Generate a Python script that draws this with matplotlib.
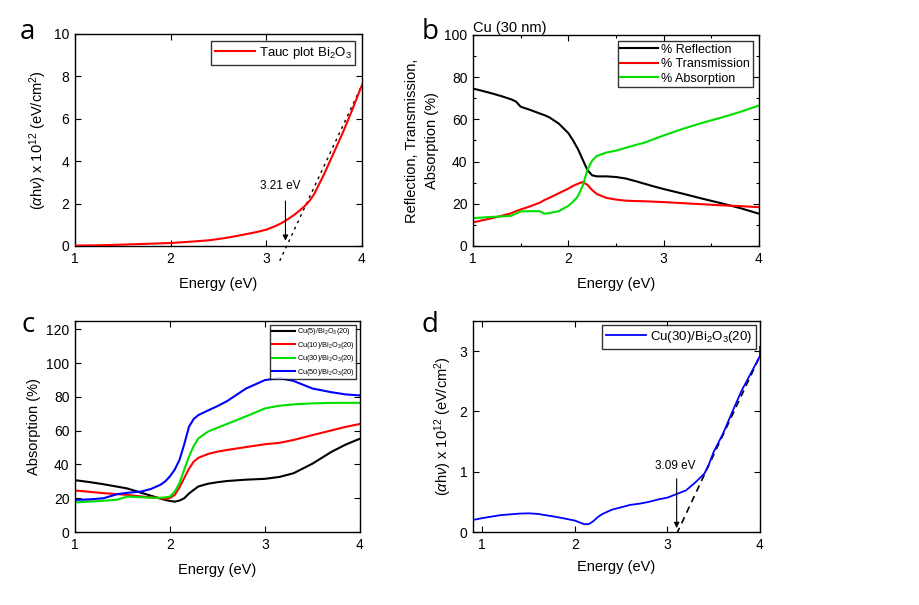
import matplotlib
matplotlib.use("Agg")
import matplotlib.pyplot as plt
from matplotlib.ticker import MultipleLocator

plt.rcParams['font.family'] = ['Liberation Sans', 'DejaVu Sans']
plt.rcParams['mathtext.fontset'] = 'custom'
plt.rcParams['mathtext.rm'] = 'Liberation Sans'
plt.rcParams['mathtext.it'] = 'Liberation Sans:italic'
plt.rcParams['font.size'] = 10

# --- panel a: Tauc plot Bi2O3 ---
a_x = [1.0, 1.2, 1.4, 1.6, 1.8, 2.0, 2.2, 2.4, 2.5, 2.6, 2.7, 2.8, 2.9, 3.0,
       3.1, 3.15, 3.2, 3.25, 3.3, 3.35, 3.4, 3.45, 3.5, 3.6, 3.7, 3.8, 3.9,
       4.0]
a_y = [0.02, 0.03, 0.05, 0.08, 0.11, 0.14, 0.2, 0.27, 0.33, 0.4, 0.48, 0.57,
       0.66, 0.77, 0.95, 1.06, 1.19, 1.34, 1.5, 1.68, 1.88, 2.12, 2.45, 3.35,
       4.35, 5.35, 6.45, 7.6]
a_fit_x = [3.14, 4.0]
a_fit_y = [-0.7, 7.6]
a_gap = 3.21

# --- panel b: Cu (30 nm) ---
b_x = [1.0, 1.1, 1.2, 1.3, 1.4, 1.45, 1.5, 1.6, 1.7, 1.75, 1.8, 1.9, 2.0,
       2.05, 2.1, 2.15, 2.2, 2.25, 2.3, 2.4, 2.5, 2.6, 2.7, 2.8, 2.9, 3.0,
       3.2, 3.4, 3.6, 3.8, 4.0]
b_refl = [74.6, 73.5, 72.3, 71.0, 69.5, 68.5, 66.0, 64.5, 62.8, 62.0, 61.0,
          58.0, 53.5, 50.0, 46.0, 41.0, 36.0, 33.5, 33.0, 33.0, 32.7, 32.0,
          30.8, 29.5, 28.2, 27.0, 24.8, 22.5, 20.3, 18.0, 15.3]
b_trans = [11.2, 12.2, 13.2, 14.3, 15.5, 16.5, 17.3, 18.8, 20.5, 21.8, 22.8,
           25.0, 27.2, 28.5, 29.5, 30.3, 29.0, 26.5, 24.6, 22.8, 22.0, 21.5,
           21.3, 21.2, 21.0, 20.8, 20.3, 19.8, 19.3, 18.9, 18.4]
b_abs = [13.2, 13.5, 13.8, 14.0, 14.3, 15.3, 16.4, 16.5, 16.5, 15.3, 15.6,
         16.5, 19.0, 21.0, 23.5, 28.5, 36.0, 40.5, 42.7, 44.3, 45.2, 46.5,
         47.8, 49.0, 50.7, 52.4, 55.5, 58.3, 60.8, 63.5, 66.6]

# --- panel c: absorption of Cu(x)/Bi2O3(20) ---
c_x = [1.0, 1.15, 1.3, 1.45, 1.55, 1.7, 1.8, 1.9, 1.95, 2.0, 2.05, 2.1, 2.15,
       2.2, 2.25, 2.3, 2.4, 2.5, 2.6, 2.8, 3.0, 3.15, 3.3, 3.5, 3.7, 3.85, 4.0]
c_cu5 = [30.7, 29.6, 28.3, 26.8, 25.8, 23.2, 21.5, 19.8, 19.0, 18.4, 18.0,
         18.6, 20.0, 22.8, 25.0, 27.0, 28.6, 29.5, 30.2, 31.0, 31.5, 32.6,
         34.8, 40.5, 47.5, 51.8, 55.3]
c_cu10 = [24.6, 23.8, 23.0, 22.4, 22.0, 21.0, 20.5, 20.0, 19.7, 20.2, 22.0,
          26.5, 32.0, 37.5, 41.7, 44.0, 46.2, 47.6, 48.6, 50.3, 52.0, 52.8,
          54.5, 57.4, 60.2, 62.3, 64.0]
c_cu30 = [17.5, 18.0, 18.5, 19.2, 21.0, 20.6, 20.3, 20.3, 20.5, 21.0, 24.0,
          29.0, 37.0, 44.7, 51.0, 55.5, 59.5, 61.8, 64.0, 68.5, 73.2, 74.8,
          75.6, 76.2, 76.5, 76.5, 76.5]
c_cu50 = [19.0, 19.3, 20.0, 22.5, 23.2, 24.0, 25.5, 28.0, 30.0, 33.0, 37.0,
          42.7, 52.0, 62.4, 67.0, 69.3, 72.0, 74.6, 77.5, 85.0, 90.0, 91.2,
          89.5, 85.0, 82.8, 81.5, 80.9]
c_labels = ['Cu(5)/Bi$_2$O$_3$(20)', 'Cu(10)/Bi$_2$O$_3$(20)',
            'Cu(30)/Bi$_2$O$_3$(20)', 'Cu(50)/Bi$_2$O$_3$(20)']

# --- panel d: Tauc plot Cu(30)/Bi2O3(20) ---
d_x = [0.9, 1.0, 1.2, 1.4, 1.5, 1.6, 1.8, 2.0, 2.1, 2.15, 2.2, 2.25, 2.3, 2.4,
       2.5, 2.6, 2.7, 2.8, 2.9, 3.0, 3.1, 3.2, 3.3, 3.4, 3.45, 3.5, 3.6, 3.7,
       3.8, 3.9, 4.0, 4.0]
d_y = [0.2, 0.23, 0.28, 0.305, 0.31, 0.3, 0.25, 0.19, 0.13, 0.13, 0.18, 0.25,
       0.3, 0.37, 0.41, 0.45, 0.47, 0.5, 0.54, 0.57, 0.63, 0.69, 0.82, 0.97,
       1.13, 1.33, 1.63, 1.99, 2.34, 2.63, 2.92, 3.07]
d_fit_x = [3.1, 4.0]
d_fit_y = [-0.03, 2.92]
d_gap = 3.09

fig = plt.figure(figsize=(9.2, 6.05), dpi=100)
W, H = 920.0, 605.0


def mk_axes(x0, y0, x1, y1):
    return fig.add_axes([x0 / W, 1 - y1 / H, (x1 - x0) / W, (y1 - y0) / H])


def style(ax):
    ax.tick_params(direction='in', top=True, right=True, length=4,
                   labelsize=10, width=0.8, pad=4)
    ax.tick_params(which='minor', direction='in', top=True, right=True,
                   length=2.5, width=0.8)
    for s in ax.spines.values():
        s.set_linewidth(1.0)


letter_kw = dict(fontsize=20, family=['Open Sans', 'DejaVu Sans'],
                 ha='center', va='center')

# a
ax = mk_axes(75, 34, 362, 246)
ax.plot(a_x, a_y, color='red', lw=1.5, label='Tauc plot Bi$_2$O$_3$', zorder=3)
ax.plot(a_fit_x, a_fit_y, color='black', ls=(0, (2, 3)), lw=1.0,
        clip_on=False, zorder=2)
ax.annotate('', xy=(a_gap - 0.01, 0.12), xytext=(a_gap - 0.01, 2.25),
            arrowprops=dict(arrowstyle='-|>', color='black', lw=0.8,
                            mutation_scale=8))
ax.text(a_gap - 0.06, 2.55, '3.21 eV', fontsize=8.5, ha='center', va='bottom')
ax.set_xlim(1, 4)
ax.set_ylim(0, 10)
ax.xaxis.set_major_locator(MultipleLocator(1))
ax.yaxis.set_major_locator(MultipleLocator(2))
ax.set_xlabel('Energy (eV)', fontsize=10.5, labelpad=8)
ax.set_ylabel(r'($\alpha$h$\nu$) x 10$^{12}$ (eV/cm$^2$)', fontsize=10.5)
style(ax)
ax.legend(loc='upper right', fontsize=9.5, frameon=True, fancybox=False,
          edgecolor='black', borderpad=0.3, handlelength=3, handletextpad=0.3,
          borderaxespad=0.5).get_frame().set_linewidth(1.0)
fig.text(27 / W, 1 - 32 / H, 'a', **letter_kw)

# b
ax = mk_axes(473, 35, 759, 246)
ax.plot(b_x, b_refl, color='black', lw=1.5, label='% Reflection')
ax.plot(b_x, b_trans, color='red', lw=1.5, label='% Transmission')
ax.plot(b_x, b_abs, color='#00e000', lw=1.5, label='% Absorption')
ax.set_xlim(1, 4)
ax.set_ylim(0, 100)
ax.xaxis.set_major_locator(MultipleLocator(1))
ax.xaxis.set_minor_locator(MultipleLocator(0.5))
ax.yaxis.set_major_locator(MultipleLocator(20))
ax.yaxis.set_minor_locator(MultipleLocator(10))
ax.set_xlabel('Energy (eV)', fontsize=10.5, labelpad=8)
ax.set_ylabel('Reflection, Transmission,\nAbsorption (%)', fontsize=10.5,
              linespacing=1.5)
ax.set_title('Cu (30 nm)', loc='left', fontsize=10.5, pad=2)
style(ax)
ax.legend(loc='upper right', fontsize=9, frameon=True, fancybox=False,
          edgecolor='black', borderpad=0.2, handlelength=3, handletextpad=0.3,
          labelspacing=0.2, borderaxespad=0.5).get_frame().set_linewidth(1.0)
fig.text(430 / W, 1 - 32 / H, 'b', **letter_kw)

# c
ax = mk_axes(75, 321, 360, 532)
for yv, col, lab in zip([c_cu5, c_cu10, c_cu30, c_cu50],
                        ['black', 'red', '#00e000', 'blue'], c_labels):
    ax.plot(c_x, yv, color=col, lw=1.5, label=lab)
ax.set_xlim(1, 4)
ax.set_ylim(0, 125)
ax.xaxis.set_major_locator(MultipleLocator(1))
ax.yaxis.set_major_locator(MultipleLocator(20))
ax.set_xlabel('Energy (eV)', fontsize=10.5, labelpad=8)
ax.set_ylabel('Absorption (%)', fontsize=10.5)
style(ax)
ax.legend(loc='upper right', fontsize=5.3, frameon=True, fancybox=False,
          edgecolor='black', borderpad=0.2, handlelength=3.2,
          handletextpad=0.2, labelspacing=0.35,
          borderaxespad=0.5).get_frame().set_linewidth(1.0)
fig.text(28 / W, 1 - 325 / H, 'c', **letter_kw)

# d
ax = mk_axes(473, 321, 760, 532)
ax.plot(d_x, d_y, color='blue', lw=1.3, label='Cu(30)/Bi$_2$O$_3$(20)',
        zorder=3)
ax.plot(d_fit_x, d_fit_y, color='black', ls=(0, (4, 3)), lw=1.2, zorder=2)
ax.annotate('', xy=(d_gap + 0.01, 0.02), xytext=(d_gap + 0.01, 0.93),
            arrowprops=dict(arrowstyle='-|>', color='black', lw=0.8,
                            mutation_scale=8))
ax.text(d_gap - 0.01, 1.0, '3.09 eV', fontsize=8.5, ha='center', va='bottom')
ax.set_xlim(0.9, 4)
ax.set_ylim(0, 3.5)
ax.xaxis.set_major_locator(MultipleLocator(1))
ax.yaxis.set_major_locator(MultipleLocator(1))
ax.set_xlabel('Energy (eV)', fontsize=10.5, labelpad=6)
ax.set_ylabel(r'($\alpha$h$\nu$) x 10$^{12}$ (eV/cm$^2$)', fontsize=10.5)
style(ax)
ax.legend(loc='upper right', fontsize=9.5, frameon=True, fancybox=False,
          edgecolor='black', borderpad=0.3, handlelength=3, handletextpad=0.3,
          borderaxespad=0.3).get_frame().set_linewidth(1.0)
fig.text(430 / W, 1 - 325 / H, 'd', **letter_kw)

fig.savefig('out.png', dpi=100)
